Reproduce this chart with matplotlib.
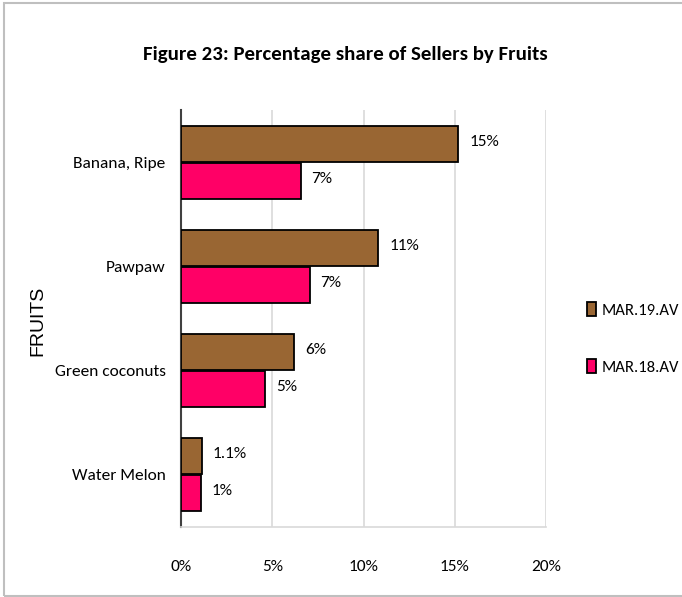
import numpy as np
import matplotlib
matplotlib.use("Agg")
import matplotlib.pyplot as plt
from matplotlib.patches import Rectangle

# ---------------- data ----------------
fruits = ["Banana, Ripe", "Pawpaw", "Green coconuts", "Water Melon"]
mar19 = [15.2, 10.8, 6.2, 1.15]
mar18 = [6.55, 7.05, 4.6, 1.07]
mar19_labels = ["15%", "11%", "6%", "1.1%"]
mar18_labels = ["7%", "7%", "5%", "1%"]
series_names = ["MAR.19.AV", "MAR.18.AV"]
x_ticks = [0, 5, 10, 15, 20]
x_ticklabels = ["0%", "5%", "10%", "15%", "20%"]

# ---------------- style ----------------
CAL = ["Carlito", "Liberation Sans"]
BROWN = "#996633"
PINK = "#FF0066"
FS = 12.5

fig = plt.figure(figsize=(6.82, 5.97), dpi=100)
ax = fig.add_axes([0.2654, 0.118, 0.5352, 0.697])

y = np.arange(len(fruits))
h = 0.345
off = 0.18

b19 = ax.barh(y - off, mar19, height=h, color=BROWN, edgecolor="black",
              linewidth=1.3, label=series_names[0], zorder=3)
b18 = ax.barh(y + off, mar18, height=h, color=PINK, edgecolor="black",
              linewidth=1.3, label=series_names[1], zorder=3)

for bars, labs in [(b19, mar19_labels), (b18, mar18_labels)]:
    for bar, lab in zip(bars, labs):
        ax.text(bar.get_width() + 0.6, bar.get_y() + bar.get_height() / 2 - 0.02,
                lab, va="center", ha="left", fontsize=FS, family=CAL)

ax.set_xlim(0, 20)
ax.set_ylim(3.5, -0.5)
ax.set_xticks(x_ticks)
ax.set_xticklabels(x_ticklabels, family=CAL, fontsize=FS)
ax.set_yticks(y)
ax.set_yticklabels(fruits, family=CAL, fontsize=FS)
ax.tick_params(axis="both", length=0)
ax.tick_params(axis="x", pad=24)
ax.tick_params(axis="y", pad=11)

ax.grid(axis="x", color="#d9d9d9", linewidth=1.2, zorder=0)
for s in ["top", "right"]:
    ax.spines[s].set_visible(False)
ax.spines["left"].set_color("#404040")
ax.spines["left"].set_linewidth(1.5)
ax.spines["bottom"].set_color("#d9d9d9")
ax.spines["bottom"].set_linewidth(1.2)

fig.text(0.055, 0.462, "FRUITS", rotation=90, ha="center", va="center",
         fontsize=14, family="Liberation Sans")

fig.text(0.507, 0.909, "Figure 23: Percentage share of Sellers by Fruits",
         ha="center", va="center", fontsize=15, fontweight="bold", family=CAL)

leg = fig.legend(handles=[b19, b18], loc="center left",
                 bbox_to_anchor=(0.861, 0.433), frameon=False,
                 prop={"family": CAL, "size": 12},
                 handlelength=0.55, handleheight=0.9, handletextpad=0.3,
                 labelspacing=2.5, borderaxespad=0, borderpad=0)

# chart border
fig.patches.append(Rectangle((0.006, 0.002), 1.2, 0.993, transform=fig.transFigure,
                             fill=False, edgecolor="#bfbfbf", linewidth=1.5))

fig.savefig("out.png", dpi=100)
